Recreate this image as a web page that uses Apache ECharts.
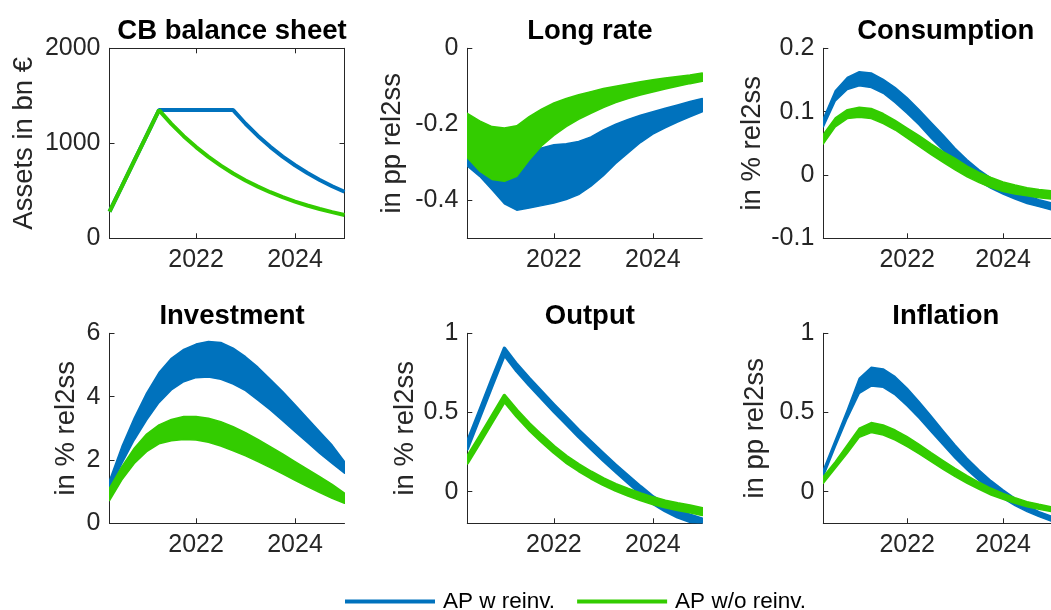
<!DOCTYPE html>
<html>
<head>
<meta charset="utf-8">
<script src="https://cdn.jsdelivr.net/npm/echarts@6/dist/echarts.min.js"></script>
<style>
  html, body { margin: 0; padding: 0; background: #fff; }
  #chart { width: 1051px; height: 610px; }
</style>
</head>
<body>
<div id="chart"></div>
<script>
// Quarterly horizon (fractional years)
const quarters = [2020.25, 2020.5, 2020.75, 2021, 2021.25, 2021.5, 2021.75, 2022, 2022.25, 2022.5,
                  2022.75, 2023, 2023.25, 2023.5, 2023.75, 2024, 2024.25, 2024.5, 2024.75, 2025];
const xTicks = [2022, 2024];
const seriesNames = ['AP w reinv.', 'AP w/o reinv.'];

// CB balance sheet, bn €
const cbReinv   = [280, 547, 815, 1082, 1350, 1350, 1350, 1350, 1350, 1350, 1350, 1206, 1078, 963, 860, 769, 687, 614, 548, 490];
const cbNoReinv = [280, 547, 815, 1082, 1350, 1205, 1075, 960, 857, 765, 682, 609, 544, 485, 433, 387, 345, 308, 275, 245];

// Long rate, pp (band lower / upper)
const rateReinvLo   = [-0.310, -0.337, -0.372, -0.409, -0.426, -0.420, -0.414, -0.407, -0.398, -0.385, -0.363, -0.335, -0.303, -0.275, -0.248, -0.226, -0.209, -0.194, -0.180, -0.167];
const rateReinvHi   = [-0.270, -0.290, -0.300, -0.305, -0.300, -0.285, -0.262, -0.254, -0.251, -0.245, -0.233, -0.215, -0.200, -0.187, -0.176, -0.167, -0.158, -0.149, -0.140, -0.132];
const rateNoReinvLo = [-0.288, -0.323, -0.345, -0.350, -0.337, -0.294, -0.257, -0.229, -0.206, -0.187, -0.171, -0.156, -0.143, -0.132, -0.123, -0.115, -0.107, -0.100, -0.093, -0.087];
const rateNoReinvHi = [-0.171, -0.191, -0.206, -0.210, -0.204, -0.180, -0.160, -0.144, -0.132, -0.122, -0.114, -0.106, -0.100, -0.094, -0.088, -0.083, -0.078, -0.074, -0.070, -0.065];

// Consumption, %
const consReinvLo   = [0.076, 0.117, 0.135, 0.141, 0.138, 0.129, 0.114, 0.097, 0.079, 0.058, 0.039, 0.020, 0.004, -0.010, -0.021, -0.030, -0.038, -0.045, -0.050, -0.055];
const consReinvHi   = [0.089, 0.133, 0.154, 0.163, 0.161, 0.151, 0.138, 0.122, 0.103, 0.083, 0.063, 0.042, 0.024, 0.008, -0.005, -0.016, -0.025, -0.032, -0.039, -0.044];
const consNoReinvLo = [0.049, 0.076, 0.089, 0.091, 0.089, 0.081, 0.071, 0.058, 0.045, 0.032, 0.020, 0.008, -0.003, -0.012, -0.020, -0.026, -0.030, -0.033, -0.036, -0.038];
const consNoReinvHi = [0.064, 0.090, 0.103, 0.107, 0.105, 0.097, 0.086, 0.074, 0.062, 0.049, 0.037, 0.026, 0.014, 0.004, -0.004, -0.011, -0.016, -0.020, -0.023, -0.025];

// Investment, %
const invReinvLo   = [1.07, 1.89, 2.63, 3.26, 3.81, 4.21, 4.47, 4.60, 4.62, 4.55, 4.40, 4.19, 3.89, 3.58, 3.24, 2.89, 2.55, 2.21, 1.89, 1.58];
const invReinvHi   = [1.35, 2.42, 3.32, 4.11, 4.76, 5.21, 5.49, 5.66, 5.74, 5.71, 5.53, 5.26, 4.93, 4.55, 4.16, 3.74, 3.32, 2.89, 2.47, 1.95];
const invNoReinvLo = [0.72, 1.37, 1.89, 2.26, 2.51, 2.61, 2.65, 2.63, 2.56, 2.44, 2.29, 2.13, 1.95, 1.76, 1.56, 1.36, 1.16, 0.97, 0.79, 0.63];
const invNoReinvHi = [1.11, 1.79, 2.37, 2.82, 3.11, 3.28, 3.37, 3.37, 3.32, 3.21, 3.05, 2.86, 2.65, 2.42, 2.19, 1.95, 1.71, 1.47, 1.23, 0.95];

// Output, %
const outReinvLo   = [0.271, 0.470, 0.670, 0.865, 0.763, 0.675, 0.591, 0.508, 0.428, 0.348, 0.273, 0.199, 0.127, 0.058, -0.009, -0.073, -0.121, -0.159, -0.188, -0.214];
const outReinvHi   = [0.311, 0.510, 0.710, 0.905, 0.803, 0.715, 0.631, 0.548, 0.468, 0.388, 0.313, 0.239, 0.167, 0.098, 0.031, -0.033, -0.081, -0.119, -0.148, -0.174];
const outNoReinvLo = [0.182, 0.310, 0.441, 0.571, 0.477, 0.393, 0.319, 0.249, 0.186, 0.134, 0.087, 0.045, 0.009, -0.022, -0.050, -0.075, -0.096, -0.113, -0.127, -0.144];
const outNoReinvHi = [0.218, 0.346, 0.477, 0.607, 0.513, 0.429, 0.355, 0.285, 0.222, 0.170, 0.123, 0.081, 0.045, 0.014, -0.014, -0.039, -0.060, -0.077, -0.091, -0.108];

// Inflation, pp
const inflReinvLo   = [0.095, 0.284, 0.463, 0.621, 0.667, 0.659, 0.611, 0.541, 0.463, 0.379, 0.295, 0.211, 0.137, 0.069, 0.011, -0.042, -0.088, -0.126, -0.158, -0.185];
const inflReinvHi   = [0.137, 0.326, 0.516, 0.716, 0.785, 0.775, 0.726, 0.653, 0.568, 0.478, 0.385, 0.295, 0.211, 0.137, 0.069, 0.011, -0.042, -0.088, -0.126, -0.154];
const inflNoReinvLo = [0.053, 0.147, 0.242, 0.343, 0.373, 0.358, 0.326, 0.284, 0.238, 0.189, 0.141, 0.095, 0.053, 0.015, -0.021, -0.048, -0.074, -0.095, -0.112, -0.126];
const inflNoReinvHi = [0.095, 0.189, 0.295, 0.400, 0.436, 0.421, 0.389, 0.347, 0.299, 0.246, 0.196, 0.147, 0.101, 0.059, 0.021, -0.011, -0.038, -0.063, -0.080, -0.095];

// Panel definitions
const panels = [
  { title: 'CB balance sheet', yName: 'Assets in bn €', yMin: 0, yMax: 2000, yTicks: [0, 1000, 2000],
    box: true, lines: [cbReinv, cbNoReinv] },
  { title: 'Long rate', yName: 'in pp rel2ss', yMin: -0.5, yMax: 0, yTicks: [-0.4, -0.2, 0],
    bands: [[rateReinvLo, rateReinvHi], [rateNoReinvLo, rateNoReinvHi]] },
  { title: 'Consumption', yName: 'in % rel2ss', yMin: -0.1, yMax: 0.2, yTicks: [-0.1, 0, 0.1, 0.2],
    bands: [[consReinvLo, consReinvHi], [consNoReinvLo, consNoReinvHi]] },
  { title: 'Investment', yName: 'in % rel2ss', yMin: 0, yMax: 6, yTicks: [0, 2, 4, 6],
    bands: [[invReinvLo, invReinvHi], [invNoReinvLo, invNoReinvHi]] },
  { title: 'Output', yName: 'in % rel2ss', yMin: -0.2, yMax: 1, yTicks: [0, 0.5, 1],
    bands: [[outReinvLo, outReinvHi], [outNoReinvLo, outNoReinvHi]] },
  { title: 'Inflation', yName: 'in pp rel2ss', yMin: -0.2, yMax: 1, yTicks: [0, 0.5, 1],
    bands: [[inflReinvLo, inflReinvHi], [inflNoReinvLo, inflNoReinvHi]] }
];

// Layout (px)
const colLeft = [109.5, 467.3, 823.3];
const rowTop = [48.3, 333.3];
const plotW = 235, plotH = 190;
const nameGaps = [71, 61, 57, 29, 48, 54];
const titleTop = [12, 297];
const bandStroke = [0, 1.5, 1.5, 1.5, 3.5, 1.5];

const BLUE = '#0072BD', GREEN = '#33CC00', AXIS = '#262626';
const colors = [BLUE, GREEN];
const FONT = '"Liberation Sans", Arial, Helvetica, sans-serif';

function bandRenderer(color, strokeWidth) {
  return function (params, api) {
    if (params.dataIndexInside !== 0) return null;
    const n = params.dataInsideLength;
    const upper = [], lower = [];
    for (let i = 0; i < n; i++) {
      const t = api.value(0, i);
      upper.push(api.coord([t, api.value(2, i)]));
      lower.push(api.coord([t, api.value(1, i)]));
    }
    return {
      type: 'polygon',
      shape: { points: upper.concat(lower.reverse()) },
      style: { fill: color, stroke: color, lineWidth: strokeWidth, lineJoin: 'round' }
    };
  };
}

const grids = [], xAxes = [], yAxes = [], series = [], titles = [];
const lineCommon = { lineStyle: { color: AXIS, width: 1 } };

panels.forEach((p, gi) => {
  const left = colLeft[gi % 3], top = rowTop[Math.floor(gi / 3)];
  grids.push({ left: left, top: top, width: plotW, height: plotH });
  titles.push({
    text: p.title, left: left + plotW / 2, top: titleTop[Math.floor(gi / 3)], textAlign: 'center',
    textStyle: { fontFamily: FONT, fontSize: 27.5, fontWeight: 'bold', color: '#000' }
  });

  const xi = xAxes.length;
  xAxes.push({
    gridIndex: gi, type: 'value', min: quarters[0], max: quarters[quarters.length - 1],
    axisLine: { show: true, onZero: false, ...lineCommon },
    axisTick: { show: true, inside: true, length: 5, customValues: xTicks, ...lineCommon },
    axisLabel: { customValues: xTicks, fontFamily: FONT, fontSize: 25, color: AXIS, margin: 9, formatter: v => String(v) },
    splitLine: { show: false }
  });
  const yi = yAxes.length;
  yAxes.push({
    gridIndex: gi, type: 'value', min: p.yMin, max: p.yMax,
    name: p.yName, nameLocation: 'middle', nameGap: nameGaps[gi],
    nameTextStyle: { fontFamily: FONT, fontSize: 27.5, color: AXIS },
    axisLine: { show: true, onZero: false, ...lineCommon },
    axisTick: { show: true, inside: true, length: 5, customValues: p.yTicks, ...lineCommon },
    axisLabel: { customValues: p.yTicks, fontFamily: FONT, fontSize: 25, color: AXIS, margin: 9, formatter: v => String(v) },
    splitLine: { show: false }
  });

  if (p.box) {
    xAxes.push({
      gridIndex: gi, type: 'value', position: 'top', min: quarters[0], max: quarters[quarters.length - 1],
      axisLine: { show: true, onZero: false, ...lineCommon },
      axisTick: { show: true, inside: true, length: 5, customValues: xTicks, ...lineCommon },
      axisLabel: { show: false }, splitLine: { show: false }
    });
    yAxes.push({
      gridIndex: gi, type: 'value', position: 'right', min: p.yMin, max: p.yMax,
      axisLine: { show: true, onZero: false, ...lineCommon },
      axisTick: { show: true, inside: true, length: 5, customValues: p.yTicks, ...lineCommon },
      axisLabel: { show: false }, splitLine: { show: false }
    });
  }

  if (p.lines) {
    p.lines.forEach((vals, si) => {
      series.push({
        type: 'line', name: seriesNames[si], xAxisIndex: xi, yAxisIndex: yi,
        data: quarters.map((t, i) => [t, vals[i]]),
        showSymbol: false, silent: true, color: colors[si],
        lineStyle: { width: 4, color: colors[si] }
      });
    });
  }
  if (p.bands) {
    p.bands.forEach((b, si) => {
      series.push({
        type: 'custom', name: seriesNames[si], xAxisIndex: xi, yAxisIndex: yi, clip: true, silent: true,
        color: colors[si],
        encode: { x: 0, y: [1, 2] },
        data: quarters.map((t, i) => [t, b[0][i], b[1][i]]),
        renderItem: bandRenderer(colors[si], bandStroke[gi])
      });
    });
  }
});

const chart = echarts.init(document.getElementById('chart'), null, { renderer: 'canvas' });
chart.setOption({
  animation: false,
  backgroundColor: '#fff',
  title: titles,
  grid: grids,
  xAxis: xAxes,
  yAxis: yAxes,
  legend: {
    left: 340, top: 585, itemWidth: 90, itemHeight: 4, itemGap: 22, icon: 'rect',
    selectedMode: false,
    data: seriesNames,
    textStyle: { fontFamily: FONT, fontSize: 22.5, color: '#000', padding: [0, 0, 0, 3] }
  },
  series: series
});
</script>
</body>
</html>
